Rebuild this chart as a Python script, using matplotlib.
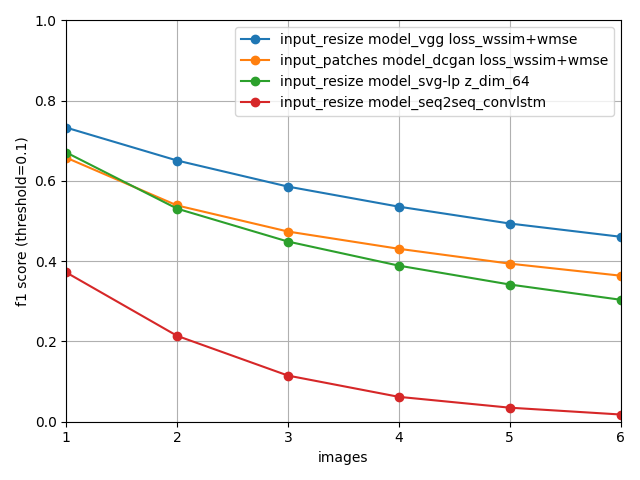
import matplotlib
matplotlib.use('Agg')
import matplotlib.pyplot as plt

images = [1, 2, 3, 4, 5, 6]

vggWssim = [0.733, 0.651, 0.586, 0.536, 0.494, 0.461]
dcganWssim = [0.658, 0.539, 0.474, 0.431, 0.394, 0.364]
svgLp = [0.671, 0.531, 0.449, 0.389, 0.342, 0.304]
seq2seq = [0.372, 0.214, 0.115, 0.062, 0.035, 0.018]

labels = [
    'input_resize model_vgg loss_wssim+wmse',
    'input_patches model_dcgan loss_wssim+wmse',
    'input_resize model_svg-lp z_dim_64',
    'input_resize model_seq2seq_convlstm',
]


def main() -> None:
    fig, ax = plt.subplots(figsize=(6.4, 4.8), dpi=100)
    for series, label in zip([vggWssim, dcganWssim, svgLp, seq2seq], labels):
        ax.plot(images, series, marker='o', label=label)

    ax.set_xlim(1, 6)
    ax.set_ylim(0, 1)
    ax.set_xlabel('images')
    ax.set_ylabel('f1 score (threshold=0.1)')
    ax.grid(True)
    ax.legend(loc='upper right')
    fig.tight_layout()
    fig.savefig('out.png')


if __name__ == '__main__':
    main()
